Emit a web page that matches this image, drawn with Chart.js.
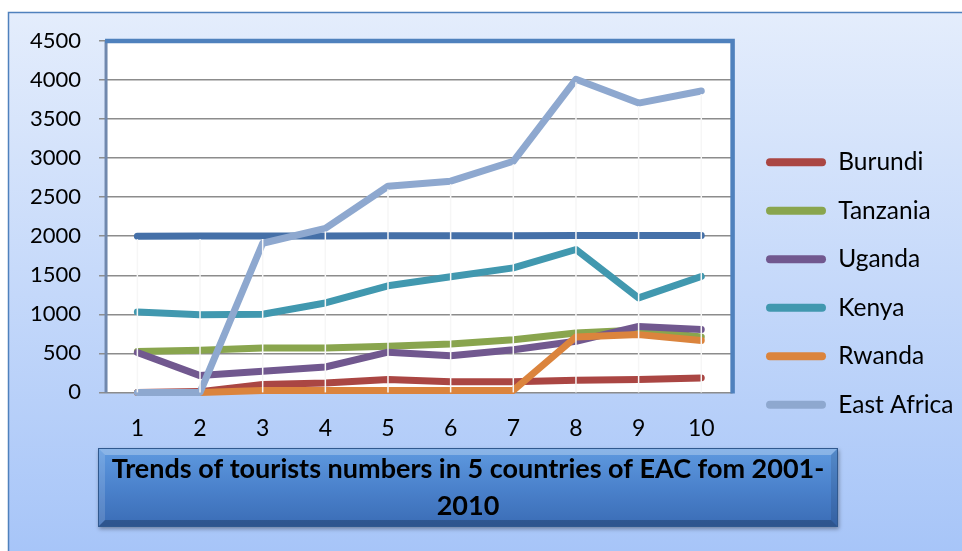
<!DOCTYPE html>
<html>
<head>
<meta charset="utf-8">
<script src="https://cdn.jsdelivr.net/npm/chart.js@4.4.1/dist/chart.umd.min.js"></script>
<style>
    html, body { margin: 0; padding: 0; background: #ffffff; }
    #contenedor { width: 962px; height: 551px; position: relative; }
</style>
</head>
<body>
<div id="contenedor"><canvas id="grafico-lineas"></canvas></div>
<script>
// Datos del gráfico
const categorias = ["1", "2", "3", "4", "5", "6", "7", "8", "9", "10"];
const year = [2001, 2002, 2003, 2004, 2005, 2006, 2007, 2008, 2009, 2010];
const burundi = [0, 10, 100, 120, 165, 135, 135, 155, 165, 185];
const tanzania = [525, 540, 570, 570, 590, 620, 675, 760, 800, 710];
const uganda = [510, 215, 270, 325, 515, 470, 545, 655, 845, 805];
const kenya = [1030, 995, 1000, 1145, 1365, 1480, 1595, 1830, 1210, 1485];
const rwanda = [0, 0, 25, 25, 25, 25, 25, 710, 740, 665];
const eastAfrica = [0, 0, 1910, 2100, 2640, 2705, 2960, 4010, 3705, 3860];
const tituloLineas = ["Trends of tourists numbers in 5 countries of EAC fom 2001-", "2010"];

const fuente = "Lato, 'Open Sans', sans-serif";

// Serie con su color
function serie(nombre, datos, color, orden) {
    return {
        label: nombre,
        data: datos,
        borderColor: color,
        backgroundColor: color,
        borderWidth: 7,
        pointRadius: 0,
        tension: 0,
        borderCapStyle: "round",
        borderJoinStyle: "round",
        clip: false,
        order: orden,
    };
}

// Fondo degradado y área de trazado blanca
const pluginFondo = {
    id: "fondo",
    beforeDraw(chart) {
        const ctx = chart.ctx;
        const { width, height, chartArea } = chart;
        ctx.save();
        ctx.fillStyle = "#ffffff";
        ctx.fillRect(0, 0, width, height);
        const g = ctx.createLinearGradient(0, 12, 0, height);
        g.addColorStop(0, "#e4edfc");
        g.addColorStop(1, "#a7c5f8");
        ctx.fillStyle = g;
        ctx.fillRect(8, 12, width - 8, height - 12);
        ctx.strokeStyle = "#4f81bd";
        ctx.lineWidth = 1.5;
        ctx.strokeRect(8.5, 12.5, width, height);
        ctx.fillStyle = "#ffffff";
        ctx.fillRect(chartArea.left, chartArea.top, chartArea.width, chartArea.height);
        ctx.restore();

        // mover la leyenda a su sitio
        const lg = chart.legend;
        if (lg) {
            lg.top = 126;
            lg.bottom = lg.top + lg.height;
            lg.left = 742;
            lg.right = lg.left + lg.width;
        }
    },
};

// Líneas de caída blancas y borde del área de trazado
const pluginBordes = {
    id: "bordes",
    afterDatasetsDraw(chart) {
        const ctx = chart.ctx;
        const area = chart.chartArea;
        const x = chart.scales.x;
        const y = chart.scales.y;
        ctx.save();
        ctx.strokeStyle = "#f6f6f6";
        ctx.lineWidth = 1.5;
        categorias.forEach((c, i) => {
            let maximo = 0;
            chart.data.datasets.forEach((ds) => { maximo = Math.max(maximo, ds.data[i]); });
            const px = x.getPixelForValue(i);
            ctx.beginPath();
            ctx.moveTo(px, y.getPixelForValue(maximo) + 3);
            ctx.lineTo(px, area.bottom);
            ctx.stroke();
        });
        // izquierda gris azulado
        ctx.strokeStyle = "#7088ad";
        ctx.lineWidth = 3;
        ctx.beginPath();
        ctx.moveTo(area.left, area.top);
        ctx.lineTo(area.left, area.bottom);
        ctx.stroke();
        // arriba y derecha azul
        ctx.strokeStyle = "#4f81bd";
        ctx.lineWidth = 4.5;
        ctx.beginPath();
        ctx.moveTo(area.left - 1, area.top);
        ctx.lineTo(area.right, area.top);
        ctx.lineTo(area.right, area.bottom + 1);
        ctx.stroke();
        ctx.restore();
    },
};

// Caja azul con el título
const pluginTitulo = {
    id: "cajaTitulo",
    afterDraw(chart) {
        const ctx = chart.ctx;
        const x = 98, y = 448, w = 740, h = 79, b = 7;
        ctx.save();
        ctx.shadowColor = "rgba(0,0,0,0.35)";
        ctx.shadowBlur = 4;
        ctx.shadowOffsetX = 1;
        ctx.shadowOffsetY = 2;
        const g = ctx.createLinearGradient(0, y, 0, y + h);
        g.addColorStop(0, "#5f9ae0");
        g.addColorStop(0.5, "#4b82cc");
        g.addColorStop(1, "#3a6cb5");
        ctx.fillStyle = g;
        ctx.fillRect(x, y, w, h);
        ctx.restore();

        ctx.save();
        const poligono = (pts, color) => {
            ctx.beginPath();
            ctx.moveTo(pts[0][0], pts[0][1]);
            pts.slice(1).forEach((p) => ctx.lineTo(p[0], p[1]));
            ctx.closePath();
            ctx.fillStyle = color;
            ctx.fill();
        };
        poligono([[x, y], [x + w, y], [x + w - b, y + b], [x + b, y + b]], "rgba(255,255,255,0.28)");
        poligono([[x, y], [x + b, y + b], [x + b, y + h - b], [x, y + h]], "rgba(255,255,255,0.14)");
        poligono([[x + w, y], [x + w, y + h], [x + w - b, y + h - b], [x + w - b, y + b]], "rgba(0,0,0,0.10)");
        poligono([[x, y + h], [x + b, y + h - b], [x + w - b, y + h - b], [x + w, y + h]], "rgba(0,0,0,0.22)");
        ctx.strokeStyle = "#30598f";
        ctx.lineWidth = 1;
        ctx.strokeRect(x + 0.5, y + 0.5, w - 1, h - 1);

        ctx.fillStyle = "#000000";
        ctx.font = "bold 27px " + fuente;
        ctx.textAlign = "center";
        ctx.textBaseline = "middle";
        tituloLineas.forEach((linea, i) => {
            ctx.fillText(linea, x + w / 2, y + 21 + i * 37);
        });
        ctx.restore();
    },
};

const ctxLineas = document.getElementById("grafico-lineas").getContext("2d");
const graficoLineas = new Chart(ctxLineas, {
    type: "line",
    data: {
        labels: categorias,
        datasets: [
            serie("Year", year, "#4570a8", 0),
            serie("Burundi", burundi, "#aa4643", -1),
            serie("Tanzania", tanzania, "#89a54e", -2),
            serie("Uganda", uganda, "#71588f", -3),
            serie("Kenya", kenya, "#4198af", -4),
            serie("Rwanda", rwanda, "#db843d", -5),
            serie("East Africa", eastAfrica, "#8ea8cf", -6),
        ],
    },
    options: {
        responsive: true,
        maintainAspectRatio: false,
        animation: false,
        layout: {
            padding: { left: 12, top: 41, right: 8, bottom: 87 },
        },
        plugins: {
            title: { display: false },
            tooltip: { enabled: false },
            legend: {
                position: "right",
                align: "start",
                labels: {
                    color: "#000000",
                    font: { family: fuente, size: 24.5 },
                    boxWidth: 60,
                    boxHeight: 8,
                    padding: 24,
                    sort: (a, b) => a.datasetIndex - b.datasetIndex,
                    generateLabels: function (chart) {
                        const items = Chart.defaults.plugins.legend.labels.generateLabels(chart);
                        return items
                            .filter((it) => it.text !== "Year")
                            .map((it) => ({ ...it, fillStyle: it.strokeStyle, lineWidth: 0, borderRadius: 4 }));
                    },
                },
            },
        },
        scales: {
            x: {
                offset: true,
                grid: { display: false, drawTicks: false },
                border: { display: false },
                ticks: {
                    color: "#000000",
                    font: { family: fuente, size: 23 },
                    padding: 22,
                },
            },
            y: {
                min: 0,
                max: 4500,
                grid: { color: "#8c8c8c", lineWidth: 1.5, tickLength: 7, drawTicks: true },
                border: { display: false },
                ticks: {
                    stepSize: 500,
                    format: { useGrouping: false },
                    color: "#000000",
                    font: { family: fuente, size: 22 },
                    padding: 18,
                },
            },
        },
    },
    plugins: [pluginFondo, pluginBordes, pluginTitulo],
});
</script>
</body>
</html>
